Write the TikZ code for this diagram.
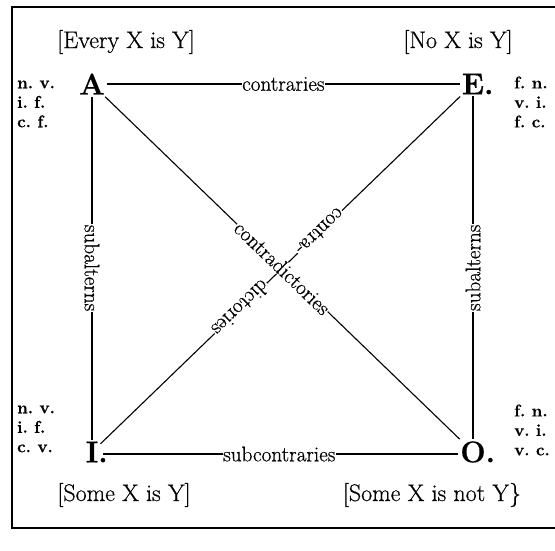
\documentclass[tikz,border=0pt]{standalone}
\usepackage{fontspec}
\newfontfamily\heavyrm{Latin Modern Roman}[FakeBold=0.6]
\usetikzlibrary{calc}
\begin{document}
\begin{tikzpicture}[x=1pt,y=-1pt,
  letter/.style={font=\heavyrm\fontsize{30}{30}\selectfont\bfseries, inner sep=2pt},
  title/.style={font=\heavyrm\fontsize{24}{24}\selectfont, inner sep=0pt},
  abbr/.style={font=\heavyrm\fontsize{17}{19.5}\selectfont\bfseries\frenchspacing, align=left, inner sep=0pt, anchor=west},
  lbl/.style={font=\heavyrm\fontsize{21.2}{21.2}\selectfont, fill=white, inner sep=0.6pt},
  conn/.style={line width=1.1pt},
  frame/.style={line width=1.6pt}]
\useasboundingbox (0,0) rectangle (555,550);
\draw[frame] (555,7) -- (12,7) -- (12,528) -- (555,528);

% corner letters
\node[letter] (A) at (92,84) {A};
\node[letter] (E) at (473,84) {E\rlap{.}};
\node[letter] (I) at (92,452) {I\rlap{.}};
\node[letter] (O) at (473,452) {O\rlap{.}};

% titles
\node[title] (tA) at (126,42) {[Every X is Y]};
\node[title] (tE) at (458,42) {[No X is Y]};
\node[title] (tI) at (124,495) {[Some X is Y]};
\node[title] (tO) at (432,495) {[Some X is not Y\}};

% abbreviations
\node[abbr] (nA) at (17,104) {n. v.\\i. f.\\c. f.};
\node[abbr] (nE) at (514,102) {f. n.\\v. i.\\f. c.};
\node[abbr] (nI) at (17,429) {n. v.\\i. f.\\c. v.};
\node[abbr] (nO) at (514,430) {f. n.\\v. i.\\v. c.};

% connectors
\draw[conn] (E) -- (I)
  node[lbl, sloped, allow upside down, pos=0.39] {contra-}
  node[lbl, sloped, allow upside down, pos=0.61] {dictories};
\draw[conn] (A) -- (O) node[lbl, sloped, midway] {contradictories};
\draw[conn] (A) -- (E) node[lbl, midway] {contraries};
\draw[conn] (A) -- (I) node[lbl, midway, rotate=-90] {subalterns};
\draw[conn] (E) -- (O) node[lbl, midway, rotate=90] {subalterns};
\draw[conn, shorten <=3pt] ([yshift=-2pt]I.east) -- ([yshift=-2pt]O.west) node[lbl, midway] {subcontraries};
\end{tikzpicture}
\end{document}
